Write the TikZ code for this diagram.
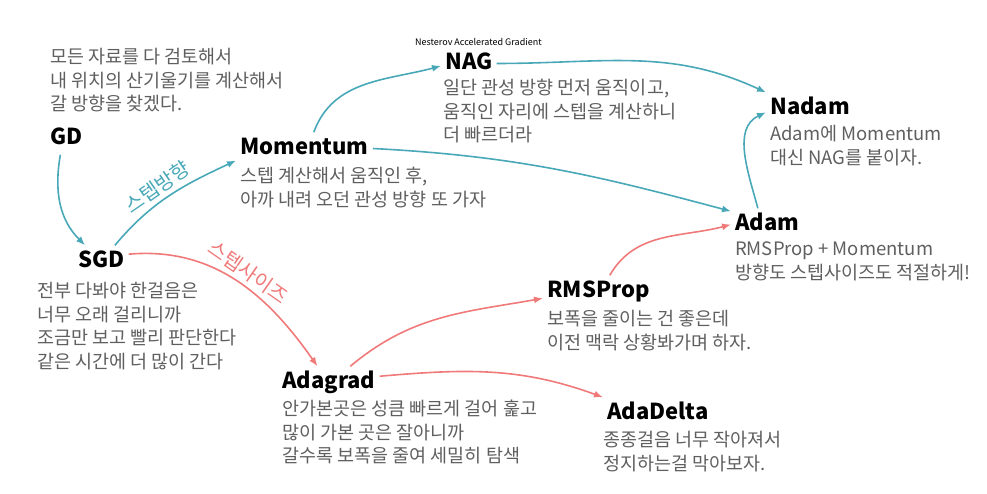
\documentclass[tikz,border=0pt]{standalone}
\usepackage{fontspec}
\setmainfont{Noto Sans CJK KR}
\usetikzlibrary{arrows.meta}
\definecolor{stepdir}{RGB}{72,168,184}
\definecolor{stepsize}{RGB}{240,122,122}
\definecolor{notegray}{RGB}{95,95,95}

\begin{document}
\begin{tikzpicture}[x=1pt,y=1pt,>={Latex[length=9pt,width=7pt]},
  algo/.style={anchor=base west,font=\fontsize{22}{24}\selectfont\bfseries,
    inner xsep=4pt,inner ysep=6pt,text height=16pt,text depth=4pt},
  note/.style={anchor=base west,align=left,text=notegray,inner sep=0pt,
    font=\fontsize{18.5}{23.5}\selectfont},
  dirline/.style={stepdir,line width=1.6pt,->},
  sizeline/.style={stepsize,line width=1.6pt,->},
  steplabel/.style={sloped,above=4pt,inner sep=0pt,font=\fontsize{20}{22}\selectfont}]
  \useasboundingbox (0,0) rectangle (987,494);

  \node[algo] (gd) at (46,349.5) {GD};
  \node[note] (gdnote) at (50,383) {모든 자료를 다 검토해서\\내 위치의 산기울기를 계산해서\\갈 방향을 찾겠다.};
  \node[algo] (sgd) at (74,226.5) {SGD};
  \node[note] (sgdnote) at (37,125.5) {전부 다봐야 한걸음은\\너무 오래 걸리니까\\조금만 보고 빨리 판단한다\\같은 시간에 더 많이 간다};
  \node[algo] (momentum) at (236,339.5) {Momentum};
  \node[note] (momnote) at (240,287.5) {스텝 계산해서 움직인 후,\\아까 내려 오던 관성 방향 또 가자};
  \node[algo] (nag) at (441,424.5) {NAG};
  \node[anchor=base west,inner sep=0pt,font=\fontsize{9}{10}\selectfont] (nagfull) at (415,448) {Nesterov Accelerated Gradient};
  \node[note] (nagnote) at (443,352) {일단 관성 방향 먼저 움직이고,\\움직인 자리에 스텝을 계산하니\\더 빠르더라};
  \node[algo] (nadam) at (766,379.5) {Nadam};
  \node[note] (nadamnote) at (770,329.5) {Adam에 Momentum\\대신 NAG를 붙이자.};
  \node[algo] (adam) at (731,263.5) {Adam};
  \node[note] (adamnote) at (735,214.5) {RMSProp + Momentum\\방향도 스텝사이즈도 적절하게!};
  \node[algo] (rmsprop) at (543,196.5) {RMSProp};
  \node[note] (rmsnote) at (547,144.5) {보폭을 줄이는 건 좋은데\\이전 맥락 상황봐가며 하자.};
  \node[algo] (adagrad) at (278,105.5) {Adagrad};
  \node[note] (adagradnote) at (282,31) {안가본곳은 성큼 빠르게 걸어 훑고\\많이 가본 곳은 잘아니까\\갈수록 보폭을 줄여 세밀히 탐색};
  \node[algo] (adadelta) at (603,74.5) {AdaDelta};
  \node[note] (adadeltanote) at (603,23.5) {종종걸음 너무 작아져서\\정지하는걸 막아보자.};

  \draw[dirline] (gd.250) to[out=260,in=135] (sgd.135);
  \draw[dirline] (sgd.50) to[out=50,in=205]
    node[steplabel,pos=0.46,text=stepdir] (dirlabel) {스텝방향} (momentum.190);
  \draw[dirline] (momentum.60) to[out=70,in=195] (nag.185);
  \draw[dirline] (nag.east) to[out=0,in=155] (nadam.160);
  \draw[dirline] (momentum.east) to[out=-3,in=165] (adam.160);
  \draw[dirline] (adam.120) to[out=105,in=205] (nadam.185);
  \draw[sizeline] (sgd.15) to[out=5,in=125]
    node[steplabel,pos=0.52,text=stepsize] (sizelabel) {스텝사이즈} (adagrad.125);
  \draw[sizeline] (adagrad.37) to[out=40,in=190] (rmsprop.187);
  \draw[sizeline] (adagrad.7) to[out=5,in=160] (adadelta.north west);
  \draw[sizeline] (rmsprop.55) to[out=60,in=195] (adam.west);
\end{tikzpicture}
\end{document}
